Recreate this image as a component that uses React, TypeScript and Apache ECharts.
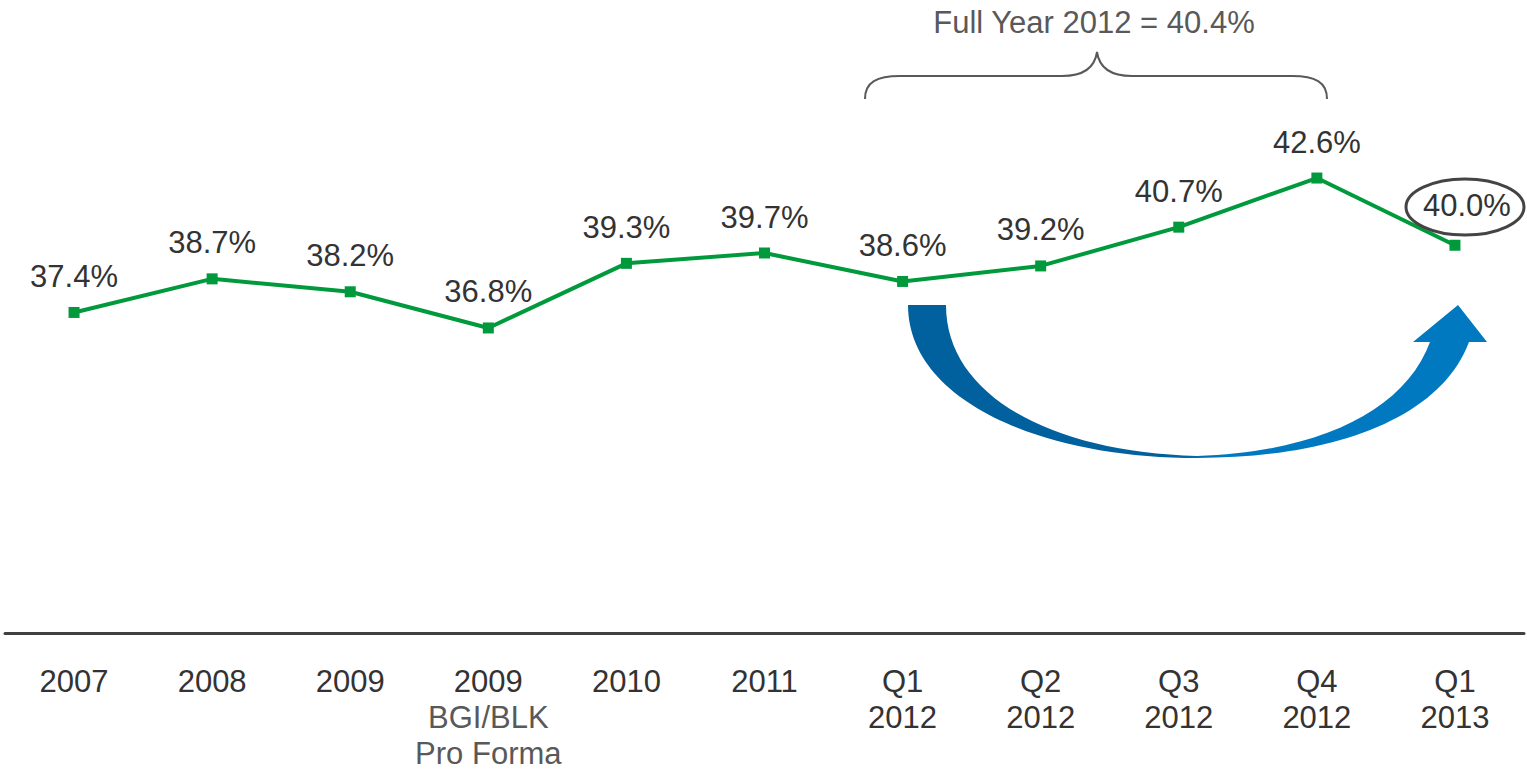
import React, { useEffect, useRef } from "react";
import * as echarts from "echarts";

const categories = [
  "2007",
  "2008",
  "2009",
  "2009\nBGI/BLK\nPro Forma",
  "2010",
  "2011",
  "Q1\n2012",
  "Q2\n2012",
  "Q3\n2012",
  "Q4\n2012",
  "Q1\n2013",
];
const margins = [37.4, 38.7, 38.2, 36.8, 39.3, 39.7, 38.6, 39.2, 40.7, 42.6, 40.0];
const annotationText = "Full Year 2012 = 40.4%";

const arrowD =
  "M908 305 L946 305 C946 395 1050 452 1197 456 C1320 452 1405 410 1430 342 L1413 342 L1458 305 L1487 342 L1469 342 C1440 420 1330 458 1197 458 C1040 458 908 400 908 305 Z";
const braceD =
  "M865 99 C865 82 877 76 900 76 L1062 76 C1085 76 1095 66 1097 52 C1099 66 1109 76 1132 76 L1292 76 C1315 76 1327 82 1327 99";

let registered = false;
function registerShapes() {
  if (registered) return;
  echarts.graphic.registerShape("bluearrow", echarts.graphic.extendPath(arrowD, {}));
  echarts.graphic.registerShape("brace", echarts.graphic.extendPath(braceD, {}));
  registered = true;
}

const FONT = "'Liberation Sans', Arial, sans-serif";
const FS = 31;

export default function App() {
  const ref = useRef<HTMLDivElement>(null);
  useEffect(() => {
    if (!ref.current) return;
    registerShapes();
    const chart = echarts.init(ref.current, null, { renderer: "svg" });
    const lastIdx = margins.length - 1;
    chart.setOption({
      animation: false,
      textStyle: { fontFamily: FONT },
      grid: { left: 5, right: 3, top: 116, bottom: 137, containLabel: false },
      xAxis: {
        type: "category",
        data: categories,
        boundaryGap: true,
        axisLine: { show: true, lineStyle: { color: "#404040", width: 3 } },
        axisTick: { show: false },
        axisLabel: {
          interval: 0,
          margin: 30,
          formatter: (v: string) => {
            const parts = v.split("\n");
            if (parts.length === 3) {
              return `{a|${parts[0]}}\n{b|${parts[1]}}\n{b|${parts[2]}}`;
            }
            return parts.map((p) => `{a|${p}}`).join("\n");
          },
          rich: {
            a: { fontSize: FS, color: "#333333", lineHeight: 36, fontFamily: FONT },
            b: { fontSize: FS, color: "#595959", lineHeight: 36, fontFamily: FONT },
          },
        },
      },
      yAxis: {
        type: "value",
        min: 25,
        max: 45,
        show: false,
        splitLine: { show: false },
      },
      series: [
        {
          type: "line",
          data: margins.map((v, i) =>
            i === lastIdx
              ? { value: v, label: { offset: [12, -4] } }
              : { value: v }
          ),
          symbol: "rect",
          symbolSize: 11,
          lineStyle: { color: "#009a3d", width: 4 },
          itemStyle: { color: "#009a3d" },
          label: {
            show: true,
            position: "top",
            distance: 15,
            fontSize: FS,
            color: "#333333",
            fontFamily: FONT,
            formatter: (p: any) => `${Number(p.value).toFixed(1)}%`,
          },
          z: 5,
        },
      ],
      graphic: [
        {
          type: "bluearrow",
          x: 0,
          y: 0,
          z: 1,
          style: {
            fill: new echarts.graphic.LinearGradient(0, 0, 1, 0, [
              { offset: 0, color: "#00619e" },
              { offset: 0.45, color: "#00619e" },
              { offset: 0.55, color: "#0079c1" },
              { offset: 1, color: "#0079c1" },
            ]),
          },
        },
        {
          type: "brace",
          x: 0,
          y: 0,
          style: { fill: "none", stroke: "#595959", lineWidth: 2 },
        },
        {
          type: "text",
          x: 1094,
          y: 22,
          style: {
            text: annotationText,
            fontSize: FS,
            fontFamily: FONT,
            fill: "#595959",
            textAlign: "center",
            textVerticalAlign: "middle",
          },
        },
        {
          type: "ellipse",
          shape: { cx: 1465, cy: 207, rx: 59, ry: 28 },
          style: { fill: "none", stroke: "#444444", lineWidth: 3 },
          z: 10,
        },
      ],
    });
    return () => chart.dispose();
  }, []);
  return (
    <div
      ref={ref}
      style={{ position: "fixed", left: 0, top: 0, width: 1527, height: 770, background: "#fff" }}
    />
  );
}
